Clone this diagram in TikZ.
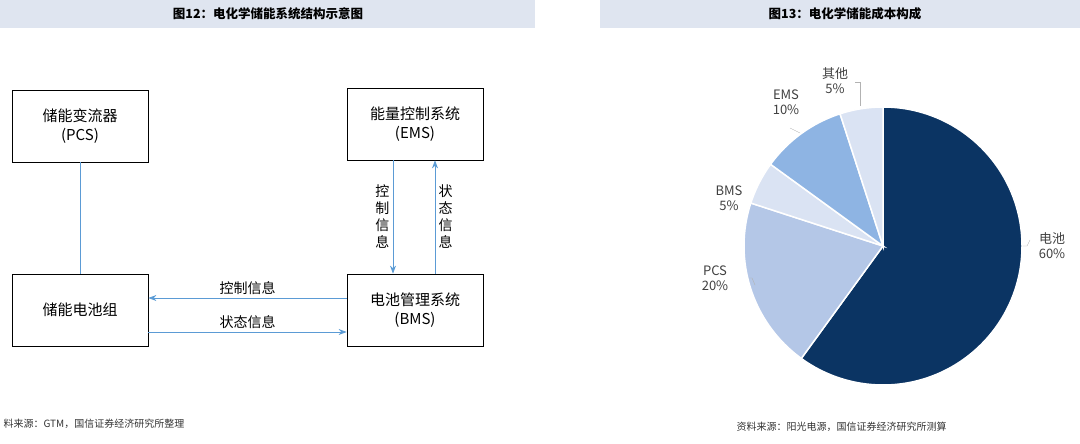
\documentclass[tikz,border=0pt]{standalone}
\usepackage{fontspec}
\setmainfont{Noto Sans CJK SC}
\usetikzlibrary{positioning,arrows.meta}
\definecolor{barbg}{HTML}{DFE5F0}
\definecolor{linkblue}{HTML}{5B9BD5}
\definecolor{navy}{HTML}{0B3463}
\definecolor{pcsblue}{HTML}{B4C7E7}
\definecolor{lightblue}{HTML}{DAE3F3}
\definecolor{emsblue}{HTML}{8EB4E3}
\tikzstyle{block} = [draw=black,thick,minimum width=136pt,minimum height=72pt,align=center,font=\fontsize{15}{19}\selectfont]
\tikzstyle{arrow} = [linkblue,thick,-{Stealth[length=8pt,width=6pt]}]
\tikzstyle{lbl} = [text=black,font=\fontsize{14}{17}\selectfont,align=center]
\tikzstyle{pielbl} = [text=black!75,font=\fontsize{13}{15}\selectfont,align=center]
\tikzstyle{lead} = [gray!60,thin]
\begin{document}
\begin{tikzpicture}[x=1pt,y=-1pt]
\useasboundingbox (0,0) rectangle (1080,444);
% title bars
\fill[barbg] (0,0) rectangle (535,28);
\fill[barbg] (600,0) rectangle (1080,28);
\node[font=\bfseries\fontsize{12.5}{14}\selectfont] (t1) at (268,14) {图12：电化学储能系统结构示意图};
\node[font=\bfseries\fontsize{12.5}{14}\selectfont] (t2) at (845,14) {图13：电化学储能成本构成};

% blocks
\node[block] (pcs) at (80,126) {储能变流器\\(PCS)};
\node[block] (ems) at (415,124) {能量控制系统\\(EMS)};
\node[block] (bat) at (80,310) {储能电池组};
\node[block] (bms) at (415,310) {电池管理系统\\(BMS)};

\draw[linkblue,thick] (pcs) -- (bat);
\draw[arrow] (bms.west |- 0,298) -- (bat.east |- 0,298) node[lbl,midway,above] {控制信息};
\draw[arrow] (bat.east |- 0,332) -- (bms.west |- 0,332) node[lbl,midway,above] {状态信息};
\draw[arrow] (ems.south -| 393,0) -- (bms.north -| 393,0) node[lbl,midway,left] {控\\制\\信\\息};
\draw[arrow] (bms.north -| 435,0) -- (ems.south -| 435,0) node[lbl,midway,right] {状\\态\\信\\息};

% pie
\coordinate (o) at (883,246);
\begin{scope}[draw=white,line width=1.5pt]
\filldraw[fill=navy] (o) -- ++(-90:139) arc[start angle=-90,end angle=126,radius=139] -- cycle;
\filldraw[fill=pcsblue] (o) -- ++(126:139) arc[start angle=126,end angle=198,radius=139] -- cycle;
\filldraw[fill=lightblue] (o) -- ++(198:139) arc[start angle=198,end angle=216,radius=139] -- cycle;
\filldraw[fill=emsblue] (o) -- ++(216:139) arc[start angle=216,end angle=252,radius=139] -- cycle;
\filldraw[fill=lightblue] (o) -- ++(252:139) arc[start angle=252,end angle=270,radius=139] -- cycle;
\end{scope}
\node[pielbl] (lbat) at (1052,246) {电池\\60\%};
\node[pielbl] (lpcs) at (715,278) {PCS\\20\%};
\node[pielbl] (lbms) at (729,198) {BMS\\5\%};
\node[pielbl] (lems) at (786,102) {EMS\\10\%};
\node[pielbl] (loth) at (835,81) {其他\\5\%};
\draw[lead] (1023,246) -- (1027,246) -- (1030,240);
\draw[lead] (749,278) -- (752,278) -- (755,285);
\draw[lead] (790,128) -- (800,133);
\draw[lead] (855,82) -- (860,82) -- (860,106);

% sources
\node[anchor=west,text=black!80,font=\fontsize{10}{12}\selectfont] (s1) at (0,424) {料来源：GTM，国信证券经济研究所整理};
\node[anchor=west,text=black!80,font=\fontsize{10}{12}\selectfont] (s2) at (733,427) {资料来源：阳光电源，国信证券经济研究所测算};
\end{tikzpicture}
\end{document}
